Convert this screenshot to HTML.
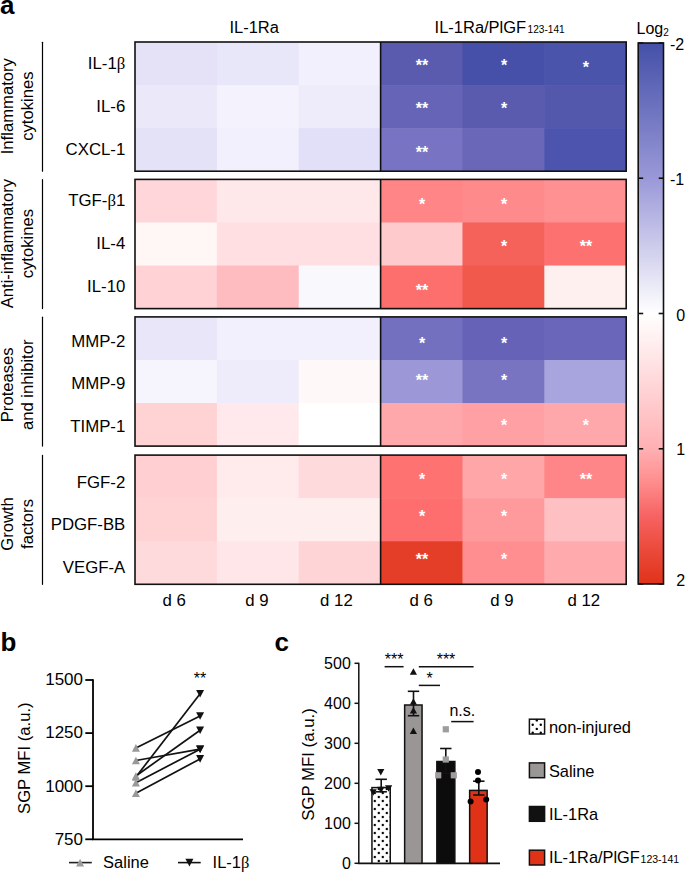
<!DOCTYPE html>
<html><head><meta charset="utf-8"><style>
html,body{margin:0;padding:0;background:#fff;}
body{width:685px;height:872px;overflow:hidden;}
svg{display:block;}
text{font-family:"Liberation Sans",sans-serif;}
</style></head><body>
<svg width="685" height="872" viewBox="0 0 685 872">
<rect width="685" height="872" fill="#fff"/>
<rect x="135.00" y="42.00" width="82.47" height="43.67" fill="#e5e1f7"/>
<rect x="216.87" y="42.00" width="82.47" height="43.67" fill="#e8e6f9"/>
<rect x="298.73" y="42.00" width="82.47" height="43.67" fill="#f2f0fc"/>
<rect x="380.60" y="42.00" width="82.47" height="43.67" fill="#5a5aae"/>
<rect x="462.47" y="42.00" width="82.47" height="43.67" fill="#4650a8"/>
<rect x="544.33" y="42.00" width="82.47" height="43.67" fill="#4a54aa"/>
<rect x="135.00" y="85.07" width="82.47" height="43.67" fill="#eae8f9"/>
<rect x="216.87" y="85.07" width="82.47" height="43.67" fill="#f4f2fd"/>
<rect x="298.73" y="85.07" width="82.47" height="43.67" fill="#eeecfb"/>
<rect x="380.60" y="85.07" width="82.47" height="43.67" fill="#6664b6"/>
<rect x="462.47" y="85.07" width="82.47" height="43.67" fill="#5a5aae"/>
<rect x="544.33" y="85.07" width="82.47" height="43.67" fill="#5458ac"/>
<rect x="135.00" y="128.13" width="82.47" height="43.67" fill="#e4e2f7"/>
<rect x="216.87" y="128.13" width="82.47" height="43.67" fill="#f2f0fc"/>
<rect x="298.73" y="128.13" width="82.47" height="43.67" fill="#e2dff8"/>
<rect x="380.60" y="128.13" width="82.47" height="43.67" fill="#7873c2"/>
<rect x="462.47" y="128.13" width="82.47" height="43.67" fill="#6a66b8"/>
<rect x="544.33" y="128.13" width="82.47" height="43.67" fill="#4c54ae"/>
<text transform="translate(125.3,69.2) scale(1.05,1)" font-size="16" text-anchor="end">IL-1<tspan style="font-family:&apos;Liberation Serif&apos;,serif">&#946;</tspan></text>
<text x="422.1" y="71.3" font-size="16" text-anchor="middle" font-weight="bold" fill="#fff" >**</text>
<text x="504.0" y="71.3" font-size="16" text-anchor="middle" font-weight="bold" fill="#fff" >*</text>
<text x="585.9" y="73.0" font-size="16" text-anchor="middle" font-weight="bold" fill="#fff" >*</text>
<text transform="translate(125.3,112.2) scale(1.05,1)" font-size="16" text-anchor="end">IL-6</text>
<text x="422.1" y="113.6" font-size="16" text-anchor="middle" font-weight="bold" fill="#fff" >**</text>
<text x="504.0" y="113.6" font-size="16" text-anchor="middle" font-weight="bold" fill="#fff" >*</text>
<text transform="translate(125.3,154.9) scale(1.05,1)" font-size="16" text-anchor="end">CXCL-1</text>
<text x="422.1" y="158.3" font-size="16" text-anchor="middle" font-weight="bold" fill="#fff" >**</text>
<rect x="135.0" y="42.0" width="491.20" height="129.2" fill="none" stroke="#111" stroke-width="1.6"/>
<line x1="380.60" y1="42.0" x2="380.60" y2="171.2" stroke="#111" stroke-width="1.6"/>
<line x1="42.5" y1="42.3" x2="42.5" y2="171.2" stroke="#000" stroke-width="1.2" stroke-linecap="round"/>
<text transform="translate(12.9,106.2) rotate(-90) scale(1.04,1)" font-size="16" text-anchor="middle">Inflammatory</text>
<text transform="translate(33.3,106.2) rotate(-90) scale(1.04,1)" font-size="16" text-anchor="middle">cytokines</text>
<rect x="135.00" y="179.40" width="82.47" height="43.67" fill="#ffd7db"/>
<rect x="216.87" y="179.40" width="82.47" height="43.67" fill="#ffe8ea"/>
<rect x="298.73" y="179.40" width="82.47" height="43.67" fill="#ffe8ea"/>
<rect x="380.60" y="179.40" width="82.47" height="43.67" fill="#ff8587"/>
<rect x="462.47" y="179.40" width="82.47" height="43.67" fill="#ff8a8c"/>
<rect x="544.33" y="179.40" width="82.47" height="43.67" fill="#ff9193"/>
<rect x="135.00" y="222.47" width="82.47" height="43.67" fill="#fff6f6"/>
<rect x="216.87" y="222.47" width="82.47" height="43.67" fill="#ffdfe2"/>
<rect x="298.73" y="222.47" width="82.47" height="43.67" fill="#ffdfe2"/>
<rect x="380.60" y="222.47" width="82.47" height="43.67" fill="#fecacc"/>
<rect x="462.47" y="222.47" width="82.47" height="43.67" fill="#f4625a"/>
<rect x="544.33" y="222.47" width="82.47" height="43.67" fill="#fd7171"/>
<rect x="135.00" y="265.53" width="82.47" height="43.67" fill="#ffd2d6"/>
<rect x="216.87" y="265.53" width="82.47" height="43.67" fill="#ffbcc0"/>
<rect x="298.73" y="265.53" width="82.47" height="43.67" fill="#f9f8fd"/>
<rect x="380.60" y="265.53" width="82.47" height="43.67" fill="#fc6f6d"/>
<rect x="462.47" y="265.53" width="82.47" height="43.67" fill="#f0594c"/>
<rect x="544.33" y="265.53" width="82.47" height="43.67" fill="#fff0f0"/>
<text transform="translate(125.3,206.4) scale(1.05,1)" font-size="16" text-anchor="end">TGF-<tspan style="font-family:&apos;Liberation Serif&apos;,serif">&#946;</tspan>1</text>
<text x="422.1" y="209.6" font-size="16" text-anchor="middle" font-weight="bold" fill="#fff" >*</text>
<text x="504.0" y="209.6" font-size="16" text-anchor="middle" font-weight="bold" fill="#fff" >*</text>
<text transform="translate(125.3,248.8) scale(1.05,1)" font-size="16" text-anchor="end">IL-4</text>
<text x="504.0" y="251.9" font-size="16" text-anchor="middle" font-weight="bold" fill="#fff" >*</text>
<text x="585.9" y="251.9" font-size="16" text-anchor="middle" font-weight="bold" fill="#fff" >**</text>
<text transform="translate(125.3,291.5) scale(1.05,1)" font-size="16" text-anchor="end">IL-10</text>
<text x="422.1" y="296.3" font-size="16" text-anchor="middle" font-weight="bold" fill="#fff" >**</text>
<rect x="135.0" y="179.4" width="491.20" height="129.2" fill="none" stroke="#111" stroke-width="1.6"/>
<line x1="380.60" y1="179.4" x2="380.60" y2="308.6" stroke="#111" stroke-width="1.6"/>
<line x1="42.5" y1="179.70000000000002" x2="42.5" y2="308.6" stroke="#000" stroke-width="1.2" stroke-linecap="round"/>
<text transform="translate(12.9,243.6) rotate(-90) scale(1.04,1)" font-size="16" text-anchor="middle">Anti-inflammatory</text>
<text transform="translate(33.3,243.6) rotate(-90) scale(1.04,1)" font-size="16" text-anchor="middle">cytokines</text>
<rect x="135.00" y="316.90" width="82.47" height="43.67" fill="#e8e6f8"/>
<rect x="216.87" y="316.90" width="82.47" height="43.67" fill="#f2f0fd"/>
<rect x="298.73" y="316.90" width="82.47" height="43.67" fill="#f2f0fd"/>
<rect x="380.60" y="316.90" width="82.47" height="43.67" fill="#7470c0"/>
<rect x="462.47" y="316.90" width="82.47" height="43.67" fill="#6662b8"/>
<rect x="544.33" y="316.90" width="82.47" height="43.67" fill="#6a66ba"/>
<rect x="135.00" y="359.97" width="82.47" height="43.67" fill="#f6f5fd"/>
<rect x="216.87" y="359.97" width="82.47" height="43.67" fill="#eeecfb"/>
<rect x="298.73" y="359.97" width="82.47" height="43.67" fill="#fff8f8"/>
<rect x="380.60" y="359.97" width="82.47" height="43.67" fill="#9c98d8"/>
<rect x="462.47" y="359.97" width="82.47" height="43.67" fill="#7874c2"/>
<rect x="544.33" y="359.97" width="82.47" height="43.67" fill="#a8a4de"/>
<rect x="135.00" y="403.03" width="82.47" height="43.67" fill="#ffd2d4"/>
<rect x="216.87" y="403.03" width="82.47" height="43.67" fill="#ffe9ec"/>
<rect x="298.73" y="403.03" width="82.47" height="43.67" fill="#ffffff"/>
<rect x="380.60" y="403.03" width="82.47" height="43.67" fill="#ffa8ab"/>
<rect x="462.47" y="403.03" width="82.47" height="43.67" fill="#ffa0a4"/>
<rect x="544.33" y="403.03" width="82.47" height="43.67" fill="#ffa8ab"/>
<text transform="translate(125.3,346.5) scale(1.05,1)" font-size="16" text-anchor="end">MMP-2</text>
<text x="422.1" y="348.9" font-size="16" text-anchor="middle" font-weight="bold" fill="#fff" >*</text>
<text x="504.0" y="348.9" font-size="16" text-anchor="middle" font-weight="bold" fill="#fff" >*</text>
<text transform="translate(125.3,389.1) scale(1.05,1)" font-size="16" text-anchor="end">MMP-9</text>
<text x="422.1" y="385.7" font-size="16" text-anchor="middle" font-weight="bold" fill="#fff" >**</text>
<text x="504.0" y="385.7" font-size="16" text-anchor="middle" font-weight="bold" fill="#fff" >*</text>
<text transform="translate(125.3,432.0) scale(1.05,1)" font-size="16" text-anchor="end">TIMP-1</text>
<text x="504.0" y="431.0" font-size="16" text-anchor="middle" font-weight="bold" fill="#fff" >*</text>
<text x="585.9" y="431.0" font-size="16" text-anchor="middle" font-weight="bold" fill="#fff" >*</text>
<rect x="135.0" y="316.9" width="491.20" height="129.2" fill="none" stroke="#111" stroke-width="1.6"/>
<line x1="380.60" y1="316.9" x2="380.60" y2="446.09999999999997" stroke="#111" stroke-width="1.6"/>
<line x1="42.5" y1="317.2" x2="42.5" y2="446.09999999999997" stroke="#000" stroke-width="1.2" stroke-linecap="round"/>
<text transform="translate(12.9,384.8) rotate(-90) scale(1.04,1)" font-size="16" text-anchor="middle">Proteases</text>
<text transform="translate(33.3,384.8) rotate(-90) scale(1.04,1)" font-size="16" text-anchor="middle">and inhibitor</text>
<rect x="135.00" y="455.10" width="82.47" height="43.67" fill="#ffcfd2"/>
<rect x="216.87" y="455.10" width="82.47" height="43.67" fill="#ffeaec"/>
<rect x="298.73" y="455.10" width="82.47" height="43.67" fill="#ffdadc"/>
<rect x="380.60" y="455.10" width="82.47" height="43.67" fill="#fe7272"/>
<rect x="462.47" y="455.10" width="82.47" height="43.67" fill="#ffa6a8"/>
<rect x="544.33" y="455.10" width="82.47" height="43.67" fill="#ff8688"/>
<rect x="135.00" y="498.17" width="82.47" height="43.67" fill="#ffd2d4"/>
<rect x="216.87" y="498.17" width="82.47" height="43.67" fill="#ffeeee"/>
<rect x="298.73" y="498.17" width="82.47" height="43.67" fill="#ffeeee"/>
<rect x="380.60" y="498.17" width="82.47" height="43.67" fill="#ff6e6e"/>
<rect x="462.47" y="498.17" width="82.47" height="43.67" fill="#ff9a9c"/>
<rect x="544.33" y="498.17" width="82.47" height="43.67" fill="#ffc0c4"/>
<rect x="135.00" y="541.23" width="82.47" height="43.67" fill="#ffdadc"/>
<rect x="216.87" y="541.23" width="82.47" height="43.67" fill="#ffe6e8"/>
<rect x="298.73" y="541.23" width="82.47" height="43.67" fill="#ffd4d6"/>
<rect x="380.60" y="541.23" width="82.47" height="43.67" fill="#e43e28"/>
<rect x="462.47" y="541.23" width="82.47" height="43.67" fill="#ff8e90"/>
<rect x="544.33" y="541.23" width="82.47" height="43.67" fill="#ffaaad"/>
<text transform="translate(125.3,488.0) scale(1.05,1)" font-size="16" text-anchor="end">FGF-2</text>
<text x="422.1" y="485.1" font-size="16" text-anchor="middle" font-weight="bold" fill="#fff" >*</text>
<text x="504.0" y="485.1" font-size="16" text-anchor="middle" font-weight="bold" fill="#fff" >*</text>
<text x="585.9" y="485.1" font-size="16" text-anchor="middle" font-weight="bold" fill="#fff" >**</text>
<text transform="translate(125.3,529.8) scale(1.05,1)" font-size="16" text-anchor="end">PDGF-BB</text>
<text x="422.1" y="521.8" font-size="16" text-anchor="middle" font-weight="bold" fill="#fff" >*</text>
<text x="504.0" y="521.8" font-size="16" text-anchor="middle" font-weight="bold" fill="#fff" >*</text>
<text transform="translate(125.3,572.8) scale(1.05,1)" font-size="16" text-anchor="end">VEGF-A</text>
<text x="422.1" y="564.5" font-size="16" text-anchor="middle" font-weight="bold" fill="#fff" >**</text>
<text x="504.0" y="564.5" font-size="16" text-anchor="middle" font-weight="bold" fill="#fff" >*</text>
<rect x="135.0" y="455.1" width="491.20" height="129.2" fill="none" stroke="#111" stroke-width="1.6"/>
<line x1="380.60" y1="455.1" x2="380.60" y2="584.3" stroke="#111" stroke-width="1.6"/>
<line x1="42.5" y1="455.40000000000003" x2="42.5" y2="584.3" stroke="#000" stroke-width="1.2" stroke-linecap="round"/>
<text transform="translate(12.9,524.0) rotate(-90) scale(1.04,1)" font-size="16" text-anchor="middle">Growth</text>
<text transform="translate(33.3,524.0) rotate(-90) scale(1.04,1)" font-size="16" text-anchor="middle">factors</text>
<text transform="translate(254.2,33) scale(1.03,1)" font-size="16" text-anchor="middle">IL-1Ra</text>
<text transform="translate(434.6,33) scale(1.03,1)" font-size="16">IL-1Ra/PlGF</text>
<text x="527.6" y="33" font-size="10.1">123-141</text>
<text transform="translate(174.2,605.8) scale(1.05,1)" font-size="16" text-anchor="middle">d 6</text>
<text transform="translate(256.9,605.8) scale(1.05,1)" font-size="16" text-anchor="middle">d 9</text>
<text transform="translate(336.4,605.8) scale(1.05,1)" font-size="16" text-anchor="middle">d 12</text>
<text transform="translate(421.2,605.8) scale(1.05,1)" font-size="16" text-anchor="middle">d 6</text>
<text transform="translate(501.8,605.8) scale(1.05,1)" font-size="16" text-anchor="middle">d 9</text>
<text transform="translate(583.8,605.8) scale(1.05,1)" font-size="16" text-anchor="middle">d 12</text>
<defs><linearGradient id="cb" x1="0" y1="0" x2="0" y2="1">
<stop offset="0" stop-color="#4450a8"/><stop offset="0.25" stop-color="#9a98d8"/>
<stop offset="0.5" stop-color="#ffffff"/><stop offset="0.625" stop-color="#ffd8da"/><stop offset="0.75" stop-color="#ffb0b3"/>
<stop offset="0.8125" stop-color="#ff8c8c"/><stop offset="0.875" stop-color="#f76262"/><stop offset="0.9375" stop-color="#eb4a3a"/>
<stop offset="1" stop-color="#e0321a"/></linearGradient>
<pattern id="dots" width="8" height="8" patternUnits="userSpaceOnUse" x="368.8" y="787">
<circle cx="2" cy="2" r="1.2" fill="#000"/><circle cx="6" cy="6" r="1.2" fill="#000"/></pattern></defs>
<rect x="638.2" y="43.0" width="25.3" height="541.0" fill="url(#cb)" stroke="#111" stroke-width="1.6"/>
<line x1="638.2" y1="43.0" x2="643.2" y2="43.0" stroke="#111" stroke-width="1.6"/>
<line x1="658.7" y1="43.0" x2="663.5" y2="43.0" stroke="#111" stroke-width="1.6"/>
<text x="670" y="50.3" font-size="16" text-anchor="start" font-weight="normal" fill="#000" >-2</text>
<line x1="638.2" y1="178.2" x2="643.2" y2="178.2" stroke="#111" stroke-width="1.6"/>
<line x1="658.7" y1="178.2" x2="663.5" y2="178.2" stroke="#111" stroke-width="1.6"/>
<text x="670" y="185.4" font-size="16" text-anchor="start" font-weight="normal" fill="#000" >-1</text>
<line x1="638.2" y1="313.5" x2="643.2" y2="313.5" stroke="#111" stroke-width="1.6"/>
<line x1="658.7" y1="313.5" x2="663.5" y2="313.5" stroke="#111" stroke-width="1.6"/>
<text x="676.3" y="320.7" font-size="16" text-anchor="start" font-weight="normal" fill="#000" >0</text>
<line x1="638.2" y1="448.8" x2="643.2" y2="448.8" stroke="#111" stroke-width="1.6"/>
<line x1="658.7" y1="448.8" x2="663.5" y2="448.8" stroke="#111" stroke-width="1.6"/>
<text x="676.3" y="455.4" font-size="16" text-anchor="start" font-weight="normal" fill="#000" >1</text>
<line x1="638.2" y1="584.0" x2="643.2" y2="584.0" stroke="#111" stroke-width="1.6"/>
<line x1="658.7" y1="584.0" x2="663.5" y2="584.0" stroke="#111" stroke-width="1.6"/>
<text x="676.3" y="586.0" font-size="16" text-anchor="start" font-weight="normal" fill="#000" >2</text>
<text x="636.5" y="33.5" font-size="16">Log<tspan font-size="10" dy="2.3">2</tspan></text>
<text x="0" y="13.6" font-size="26" text-anchor="start" font-weight="bold" fill="#000" >a</text>
<text x="0.5" y="650.7" font-size="26" text-anchor="start" font-weight="bold" fill="#000" >b</text>
<text x="274.5" y="650.8" font-size="26" text-anchor="start" font-weight="bold" fill="#000" >c</text>
<line x1="93.0" y1="679.2" x2="93.0" y2="839.3" stroke="#000" stroke-width="1.8"/>
<line x1="92.1" y1="839.3" x2="243" y2="839.3" stroke="#000" stroke-width="1.8"/>
<line x1="85.3" y1="839.3" x2="93.0" y2="839.3" stroke="#000" stroke-width="1.8"/>
<text x="83.0" y="844.6" font-size="17" text-anchor="end" font-weight="normal" fill="#000" >750</text>
<line x1="85.3" y1="786.2" x2="93.0" y2="786.2" stroke="#000" stroke-width="1.8"/>
<text x="83.0" y="791.5" font-size="17" text-anchor="end" font-weight="normal" fill="#000" >1000</text>
<line x1="85.3" y1="733.1" x2="93.0" y2="733.1" stroke="#000" stroke-width="1.8"/>
<text x="83.0" y="738.4" font-size="17" text-anchor="end" font-weight="normal" fill="#000" >1250</text>
<line x1="85.3" y1="680.0" x2="93.0" y2="680.0" stroke="#000" stroke-width="1.8"/>
<text x="83.0" y="685.3" font-size="17" text-anchor="end" font-weight="normal" fill="#000" >1500</text>
<text transform="translate(29.9,758.2) rotate(-90) scale(1.04,1)" font-size="16" text-anchor="middle">SGP MFI (a.u.)</text>
<line x1="135.9" y1="747.9" x2="200.1" y2="716.0" stroke="#111" stroke-width="1.7"/>
<line x1="135.9" y1="760.5" x2="200.1" y2="749.2" stroke="#111" stroke-width="1.7"/>
<line x1="135.9" y1="777.0" x2="200.1" y2="693.8" stroke="#111" stroke-width="1.7"/>
<line x1="135.9" y1="776.0" x2="200.1" y2="730.2" stroke="#111" stroke-width="1.7"/>
<line x1="135.9" y1="782.7" x2="200.1" y2="749.2" stroke="#111" stroke-width="1.7"/>
<line x1="135.9" y1="793.2" x2="200.1" y2="758.9" stroke="#111" stroke-width="1.7"/>
<polygon points="131.90,751.70 139.90,751.70 135.90,744.10" fill="#9a9898"/>
<polygon points="131.90,764.30 139.90,764.30 135.90,756.70" fill="#9a9898"/>
<polygon points="131.90,780.80 139.90,780.80 135.90,773.20" fill="#9a9898"/>
<polygon points="131.90,779.80 139.90,779.80 135.90,772.20" fill="#9a9898"/>
<polygon points="131.90,786.50 139.90,786.50 135.90,778.90" fill="#9a9898"/>
<polygon points="131.90,797.00 139.90,797.00 135.90,789.40" fill="#9a9898"/>
<polygon points="196.10,712.20 204.10,712.20 200.10,719.80" fill="#111"/>
<polygon points="196.10,745.40 204.10,745.40 200.10,753.00" fill="#111"/>
<polygon points="196.10,690.00 204.10,690.00 200.10,697.60" fill="#111"/>
<polygon points="196.10,726.40 204.10,726.40 200.10,734.00" fill="#111"/>
<polygon points="196.10,745.40 204.10,745.40 200.10,753.00" fill="#111"/>
<polygon points="196.10,755.10 204.10,755.10 200.10,762.70" fill="#111"/>
<text x="200.1" y="684.0" font-size="16" text-anchor="middle" font-weight="normal" fill="#000" >**</text>
<line x1="69" y1="862.6" x2="91.8" y2="862.6" stroke="#222" stroke-width="1.6"/>
<polygon points="76.10,866.40 84.10,866.40 80.10,858.80" fill="#a09c9c"/>
<text transform="translate(103.1,868.2) scale(1.03,1)" font-size="16">Saline</text>
<line x1="178" y1="862.6" x2="200.7" y2="862.6" stroke="#111" stroke-width="1.6"/>
<polygon points="185.40,858.80 193.40,858.80 189.40,866.40" fill="#111"/>
<text transform="translate(212.6,868.2) scale(1.03,1)" font-size="16">IL-1<tspan style="font-family:&apos;Liberation Serif&apos;,serif">&#946;</tspan></text>
<line x1="358.8" y1="662.8" x2="358.8" y2="863.3" stroke="#111" stroke-width="1.5"/>
<line x1="358.1" y1="863.4" x2="500" y2="863.4" stroke="#111" stroke-width="1.6"/>
<line x1="354.5" y1="863.3" x2="358.8" y2="863.3" stroke="#111" stroke-width="1.5"/>
<text x="350.8" y="868.9" font-size="16" text-anchor="end" font-weight="normal" fill="#000" >0</text>
<line x1="354.5" y1="823.3" x2="358.8" y2="823.3" stroke="#111" stroke-width="1.5"/>
<text x="350.8" y="828.9" font-size="16" text-anchor="end" font-weight="normal" fill="#000" >100</text>
<line x1="354.5" y1="783.3" x2="358.8" y2="783.3" stroke="#111" stroke-width="1.5"/>
<text x="350.8" y="788.9" font-size="16" text-anchor="end" font-weight="normal" fill="#000" >200</text>
<line x1="354.5" y1="743.3" x2="358.8" y2="743.3" stroke="#111" stroke-width="1.5"/>
<text x="350.8" y="748.9" font-size="16" text-anchor="end" font-weight="normal" fill="#000" >300</text>
<line x1="354.5" y1="703.3" x2="358.8" y2="703.3" stroke="#111" stroke-width="1.5"/>
<text x="350.8" y="708.9" font-size="16" text-anchor="end" font-weight="normal" fill="#000" >400</text>
<line x1="354.5" y1="663.3" x2="358.8" y2="663.3" stroke="#111" stroke-width="1.5"/>
<text x="350.8" y="668.9" font-size="16" text-anchor="end" font-weight="normal" fill="#000" >500</text>
<text transform="translate(314.2,764.5) rotate(-90) scale(1.05,1)" font-size="16" text-anchor="middle">SGP MFI (a.u.)</text>
<rect x="371.95" y="787.6" width="18.3" height="75.7" fill="#fff"/>
<rect x="371.95" y="787.6" width="18.3" height="75.7" fill="url(#dots)" stroke="#111" stroke-width="1.5"/>
<rect x="404.65" y="705.0" width="17.4" height="158.3" fill="#9a9696" stroke="#111" stroke-width="1.5"/>
<rect x="436.85" y="761.5" width="18.0" height="101.8" fill="#0c0c0c" stroke="#111" stroke-width="1.5"/>
<rect x="469.65" y="790.4" width="17.5" height="72.9" fill="#e03216" stroke="#111" stroke-width="1.5"/>
<line x1="381.2" y1="779.3" x2="381.2" y2="791.8" stroke="#111" stroke-width="1.6"/>
<line x1="375.5" y1="779.3" x2="386.9" y2="779.3" stroke="#111" stroke-width="1.6"/>
<line x1="375.5" y1="791.8" x2="386.9" y2="791.8" stroke="#111" stroke-width="1.6"/>
<line x1="413.5" y1="691.3" x2="413.5" y2="715.7" stroke="#111" stroke-width="1.6"/>
<line x1="407.8" y1="691.3" x2="419.2" y2="691.3" stroke="#111" stroke-width="1.6"/>
<line x1="407.8" y1="715.7" x2="419.2" y2="715.7" stroke="#111" stroke-width="1.6"/>
<line x1="445.8" y1="748.5" x2="445.8" y2="773.5" stroke="#111" stroke-width="1.6"/>
<line x1="440.1" y1="748.5" x2="451.5" y2="748.5" stroke="#111" stroke-width="1.6"/>
<line x1="440.1" y1="773.5" x2="451.5" y2="773.5" stroke="#111" stroke-width="1.6"/>
<line x1="478.8" y1="781.2" x2="478.8" y2="795.0" stroke="#111" stroke-width="1.6"/>
<line x1="473.1" y1="781.2" x2="484.5" y2="781.2" stroke="#111" stroke-width="1.6"/>
<line x1="473.1" y1="795.0" x2="484.5" y2="795.0" stroke="#111" stroke-width="1.6"/>
<polygon points="377.20,768.95 384.40,768.95 380.80,775.45" fill="#111"/>
<polygon points="369.60,789.35 376.80,789.35 373.20,795.85" fill="#111"/>
<polygon points="385.00,785.35 392.20,785.35 388.60,791.85" fill="#111"/>
<polygon points="377.40,786.75 384.60,786.75 381.00,793.25" fill="#111"/>
<polygon points="409.80,674.75 417.00,674.75 413.40,668.25" fill="#111"/>
<polygon points="409.80,704.85 417.00,704.85 413.40,698.35" fill="#111"/>
<polygon points="409.80,713.45 417.00,713.45 413.40,706.95" fill="#111"/>
<polygon points="409.80,734.05 417.00,734.05 413.40,727.55" fill="#111"/>
<rect x="435.1" y="772.2" width="6.2" height="6.2" fill="#a09c9c"/>
<rect x="450.7" y="772.2" width="6.2" height="6.2" fill="#a09c9c"/>
<rect x="442.7" y="756.4" width="6.2" height="6.2" fill="#a09c9c"/>
<rect x="442.7" y="726.2" width="6.2" height="6.2" fill="#a09c9c"/>
<circle cx="478.0" cy="771.9" r="3.0" fill="#000"/>
<circle cx="478.0" cy="780.5" r="3.0" fill="#000"/>
<circle cx="470.6" cy="801.5" r="3.0" fill="#000"/>
<circle cx="486.2" cy="799.6" r="3.0" fill="#000"/>
<line x1="384.6" y1="666.7" x2="403.6" y2="666.7" stroke="#111" stroke-width="1.5"/>
<line x1="418.8" y1="666.7" x2="473.6" y2="666.7" stroke="#111" stroke-width="1.5"/>
<line x1="418.8" y1="685.4" x2="440.0" y2="685.4" stroke="#111" stroke-width="1.5"/>
<line x1="451.2" y1="721.6" x2="473.6" y2="721.6" stroke="#111" stroke-width="1.5"/>
<text x="394.2" y="665" font-size="16" text-anchor="middle" font-weight="normal" fill="#000" >***</text>
<text x="446" y="665" font-size="16" text-anchor="middle" font-weight="normal" fill="#000" >***</text>
<text x="429.5" y="683.5" font-size="16" text-anchor="middle" font-weight="normal" fill="#000" >*</text>
<text x="462.3" y="715.7" font-size="16" text-anchor="middle" font-weight="normal" fill="#000" >n.s.</text>
<rect x="529.4" y="719.2" width="15.2" height="14.8" fill="#fff" stroke="#111" stroke-width="1.5"/>
<circle cx="536.8" cy="720.4" r="1.2" fill="#000"/>
<circle cx="532.7" cy="724.7" r="1.2" fill="#000"/>
<circle cx="540.8" cy="724.7" r="1.2" fill="#000"/>
<circle cx="536.8" cy="728.9" r="1.2" fill="#000"/>
<circle cx="532.7" cy="732.8" r="1.2" fill="#000"/>
<circle cx="540.8" cy="732.8" r="1.2" fill="#000"/>
<text transform="translate(548.9,732.8) scale(1.025,1)" font-size="16">non-injured</text>
<rect x="529.4" y="762.9" width="15.2" height="14.8" fill="#9a9696" stroke="#111" stroke-width="1.5"/>
<text transform="translate(548.9,776.5) scale(1.025,1)" font-size="16">Saline</text>
<rect x="529.4" y="806.5" width="15.2" height="14.8" fill="#111" stroke="#111" stroke-width="1.5"/>
<text transform="translate(548.9,820.1) scale(1.025,1)" font-size="16">IL-1Ra</text>
<rect x="529.4" y="850.2" width="15.2" height="14.8" fill="#e03216" stroke="#111" stroke-width="1.5"/>
<text transform="translate(548.9,863.1) scale(1.023,1)" font-size="16">IL-1Ra/PlGF</text>
<text x="640.6" y="863.1" font-size="10.5">123-141</text>
</svg></body></html>
